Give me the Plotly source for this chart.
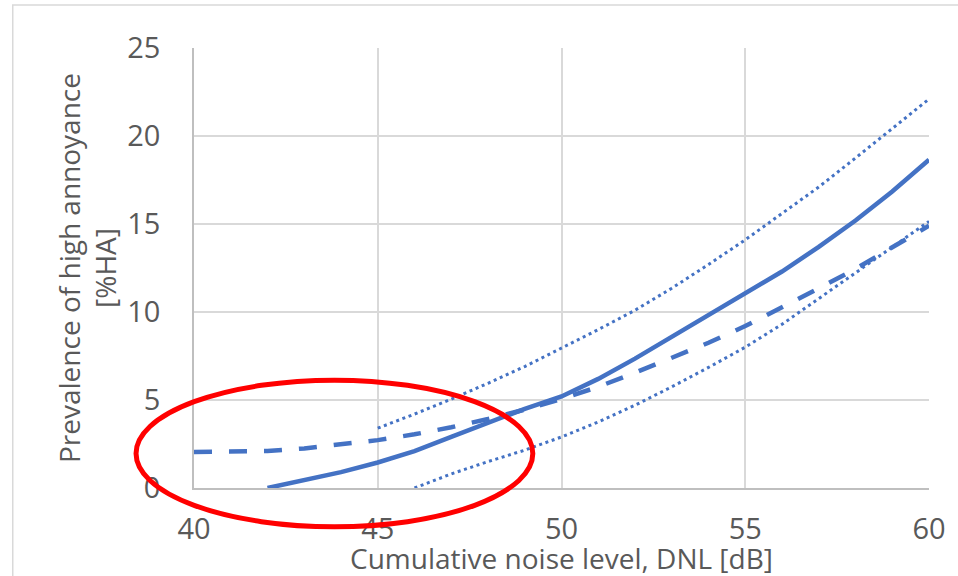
import plotly.graph_objects as go

# ---- data ----
x_solid = [42, 43, 44, 45, 46, 47, 48, 49, 50, 51, 52, 53, 54, 55, 56, 57, 58, 59, 60]
y_solid = [0, 0.42, 0.9, 1.45, 2.1, 2.9, 3.7, 4.5, 5.2, 6.2, 7.35, 8.6, 9.85, 11.05, 12.3, 13.7, 15.2, 16.85, 18.65]

x_dashed = [40, 41, 42, 43, 44, 45, 46, 47, 48, 49, 50, 51, 52, 53, 54, 55, 56, 57, 58, 59, 60]
y_dashed = [2.05, 2.05, 2.1, 2.25, 2.5, 2.72, 3.05, 3.45, 3.92, 4.45, 5.05, 5.75, 6.55, 7.4, 8.25, 9.2, 10.25, 11.35, 12.45, 13.65, 14.9]

x_upper = [45, 46, 47, 48, 49, 50, 51, 52, 53, 54, 55, 56, 57, 58, 59, 60]
y_upper = [3.4, 4.2, 5.05, 5.95, 6.9, 7.95, 9.0, 10.1, 11.35, 12.7, 14.1, 15.6, 17.1, 18.75, 20.4, 22.1]

x_lower = [46, 47, 48, 49, 50, 51, 52, 53, 54, 55, 56, 57, 58, 59, 60]
y_lower = [0, 0.8, 1.5, 2.15, 2.9, 3.75, 4.7, 5.75, 6.85, 8.0, 9.3, 10.75, 12.2, 13.65, 15.15]

x_ticks = [40, 45, 50, 55, 60]
y_ticks = [0, 5, 10, 15, 20, 25]

x_title = "Cumulative noise level, DNL [dB]"
y_title = "Prevalence of high annoyance<br>[%HA]"

BLUE = "#4472C4"
TXT = "#595959"
GRID = "#d9d9d9"
FONT = "Open Sans"

fig = go.Figure()
fig.add_trace(go.Scatter(x=x_upper, y=y_upper, mode="lines",
                         line=dict(color=BLUE, width=3, dash="3px,3.6px")))
fig.add_trace(go.Scatter(x=x_lower, y=y_lower, mode="lines",
                         line=dict(color=BLUE, width=3, dash="3px,3.6px")))
fig.add_trace(go.Scatter(x=x_dashed, y=y_dashed, mode="lines",
                         line=dict(color=BLUE, width=4.5, dash="18px,17px")))
fig.add_trace(go.Scatter(x=x_solid, y=y_solid, mode="lines",
                         line=dict(color=BLUE, width=4.5)))

W, H = 958, 576
L, R, T, B = 194, 26, 48, 88
pw, ph = W - L - R, H - T - B

def px_x(p):
    return (p - L) / pw

def px_y(p):
    return (H - B - p) / ph

fig.update_layout(
    width=W, height=H,
    margin=dict(l=L, r=R, t=T, b=B),
    paper_bgcolor="white", plot_bgcolor="white",
    showlegend=False,
    font=dict(family=FONT, color=TXT),
    xaxis=dict(range=[40, 60], tickvals=x_ticks, showgrid=True, gridcolor=GRID, gridwidth=1.5,
               zeroline=False, showline=True, linecolor="#bfbfbf", linewidth=1.5,
               ticks="", ticklabelstandoff=14, tickfont=dict(size=29, color=TXT, family=FONT)),
    yaxis=dict(range=[0, 25], tickvals=y_ticks, showgrid=True, gridcolor=GRID, gridwidth=1.5,
               zeroline=False, showline=True, linecolor="#bfbfbf", linewidth=1.5,
               ticks="", ticklabelstandoff=26, tickfont=dict(size=29, color=TXT, family=FONT)),
    annotations=[
        dict(text=x_title, xref="paper", yref="paper", x=0.5, y=0, xanchor="center",
             yanchor="middle", yshift=-70, showarrow=False,
             font=dict(size=28, color=TXT, family=FONT)),
        dict(text=y_title, xref="paper", yref="paper", x=0, y=0.5, xanchor="center",
             yanchor="middle", xshift=-107, textangle=-90, showarrow=False,
             font=dict(size=28, color=TXT, family=FONT)),
    ],
    shapes=[
        dict(type="rect", xref="paper", yref="paper",
             x0=px_x(12), x1=px_x(975), y0=px_y(595), y1=px_y(5),
             line=dict(color=GRID, width=1.5), fillcolor="rgba(0,0,0,0)"),
        dict(type="circle", xref="paper", yref="paper",
             x0=px_x(135.8), x1=px_x(534.2), y0=px_y(526.8), y1=px_y(380.2),
             line=dict(color="#ff0000", width=5), fillcolor="rgba(0,0,0,0)"),
    ],
)

fig.write_html("out.html")
